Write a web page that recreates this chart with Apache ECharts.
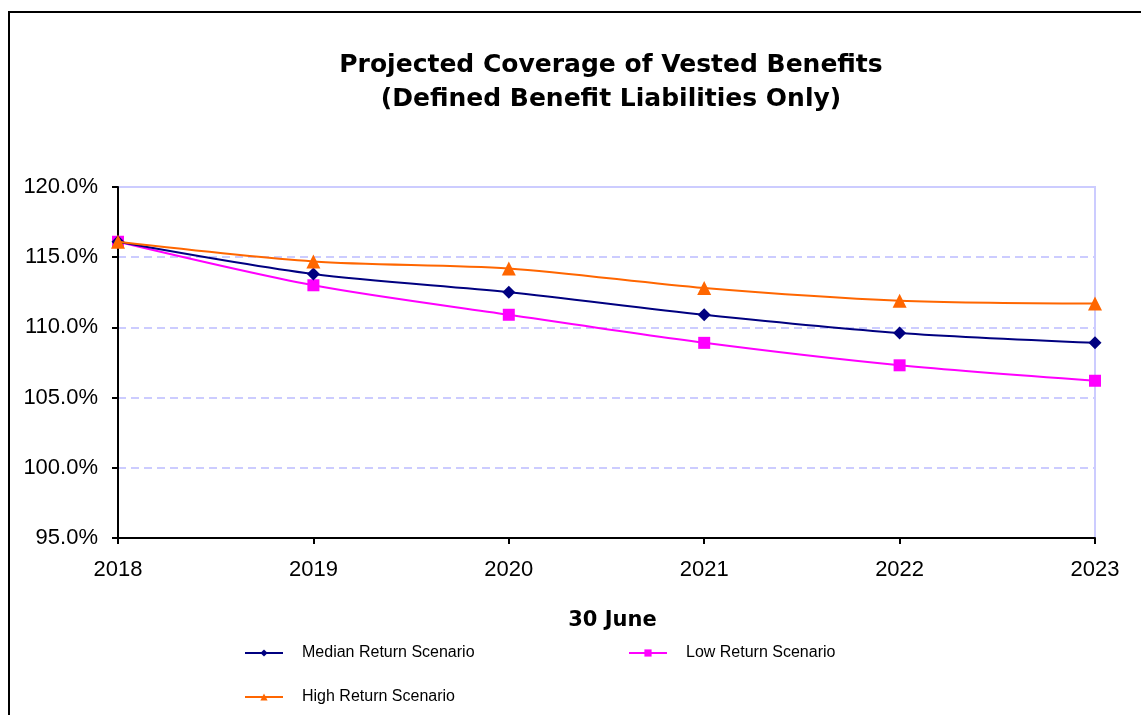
<!DOCTYPE html>
<html>
<head>
<meta charset="utf-8">
<style>
  html, body { margin: 0; padding: 0; background: #fff; }
  #chart { width: 1141px; height: 715px; }
</style>
<script src="https://cdn.jsdelivr.net/npm/echarts@6/dist/echarts.min.js"></script>
</head>
<body>
<div id="chart"></div>
<script>
  // data
  let years = ['2018', '2019', '2020', '2021', '2022', '2023'];
  let medianReturn = [116.1, 113.8, 112.5, 110.9, 109.6, 108.9];
  let lowReturn = [116.1, 113.0, 110.9, 108.9, 107.3, 106.2];
  let highReturn = [116.1, 114.7, 114.2, 112.8, 111.9, 111.7];
  let seriesNames = ['Median Return Scenario', 'Low Return Scenario', 'High Return Scenario'];

  let font = 'Liberation Sans, Arial, sans-serif';
  let wideBold = 'DejaVu Sans, Liberation Sans, sans-serif';

  let legendTpl = {
    orient: 'horizontal',
    itemWidth: 38,
    itemHeight: 9,
    itemGap: 10,
    textStyle: { fontFamily: font, fontSize: 16, color: '#000', padding: [0, 0, 0, 14] }
  };

  let myChart = echarts.init(document.getElementById('chart'));

  let option = {
    animation: false,
    textStyle: { fontFamily: font },
    title: {
      text: 'Projected Coverage of Vested Benefits\n(Defined Benefit Liabilities Only)',
      left: 606,
      textAlign: 'center',
      top: 43,
      textStyle: {
        fontFamily: wideBold,
        fontSize: 25,
        fontWeight: 'bold',
        color: '#000',
        lineHeight: 34
      }
    },
    legend: [
      Object.assign({}, legendTpl, { data: [seriesNames[0]], left: 239, top: 640 }),
      Object.assign({}, legendTpl, { data: [seriesNames[1]], left: 623, top: 640 }),
      Object.assign({}, legendTpl, { data: [seriesNames[2]], left: 239, top: 684 })
    ],
    grid: {
      left: 118,
      right: 46,
      top: 187,
      bottom: 177,
      show: true,
      borderColor: '#ccccff',
      borderWidth: 2
    },
    xAxis: {
      type: 'category',
      data: years,
      boundaryGap: false,
      name: '30 June',
      nameLocation: 'middle',
      nameGap: 72,
      nameTextStyle: { fontFamily: wideBold, fontSize: 21, fontWeight: 'bold', color: '#000', padding: [0, 0, 0, 12] },
      axisLine: { lineStyle: { color: '#000', width: 2 } },
      axisTick: { show: true, length: 6, lineStyle: { color: '#000', width: 2 }, alignWithLabel: true },
      axisLabel: { fontFamily: font, fontSize: 22, color: '#000', margin: 21 },
      splitLine: { show: false }
    },
    yAxis: {
      type: 'value',
      min: 95,
      max: 120,
      interval: 5,
      axisLine: { show: true, lineStyle: { color: '#000', width: 2 } },
      axisTick: { show: true, length: 6, lineStyle: { color: '#000', width: 2 } },
      axisLabel: {
        fontFamily: font,
        fontSize: 22,
        color: '#000',
        margin: 20,
        formatter: function (v) { return v.toFixed(1) + '%'; }
      },
      splitLine: { lineStyle: { color: '#ccccff', type: [8, 5], width: 2 } }
    },
    graphic: [{
      type: 'rect',
      shape: { x: 9, y: 12, width: 1200, height: 800 },
      style: { fill: 'none', stroke: '#000', lineWidth: 2 },
      silent: true
    }],
    series: [
      {
        name: seriesNames[0],
        type: 'line',
        data: medianReturn,
        smooth: 0.3,
        symbol: 'diamond',
        symbolSize: 13,
        lineStyle: { color: '#000080', width: 2 },
        itemStyle: { color: '#000080' },
        z: 3
      },
      {
        name: seriesNames[1],
        type: 'line',
        data: lowReturn,
        smooth: 0.3,
        symbol: 'rect',
        symbolSize: 12,
        lineStyle: { color: '#ff00ff', width: 2 },
        itemStyle: { color: '#ff00ff' },
        z: 2
      },
      {
        name: seriesNames[2],
        type: 'line',
        data: highReturn,
        smooth: 0.3,
        symbol: 'triangle',
        symbolSize: 14,
        lineStyle: { color: '#ff6600', width: 2 },
        itemStyle: { color: '#ff6600' },
        z: 4
      }
    ]
  };

  myChart.setOption(option);
</script>
</body>
</html>
